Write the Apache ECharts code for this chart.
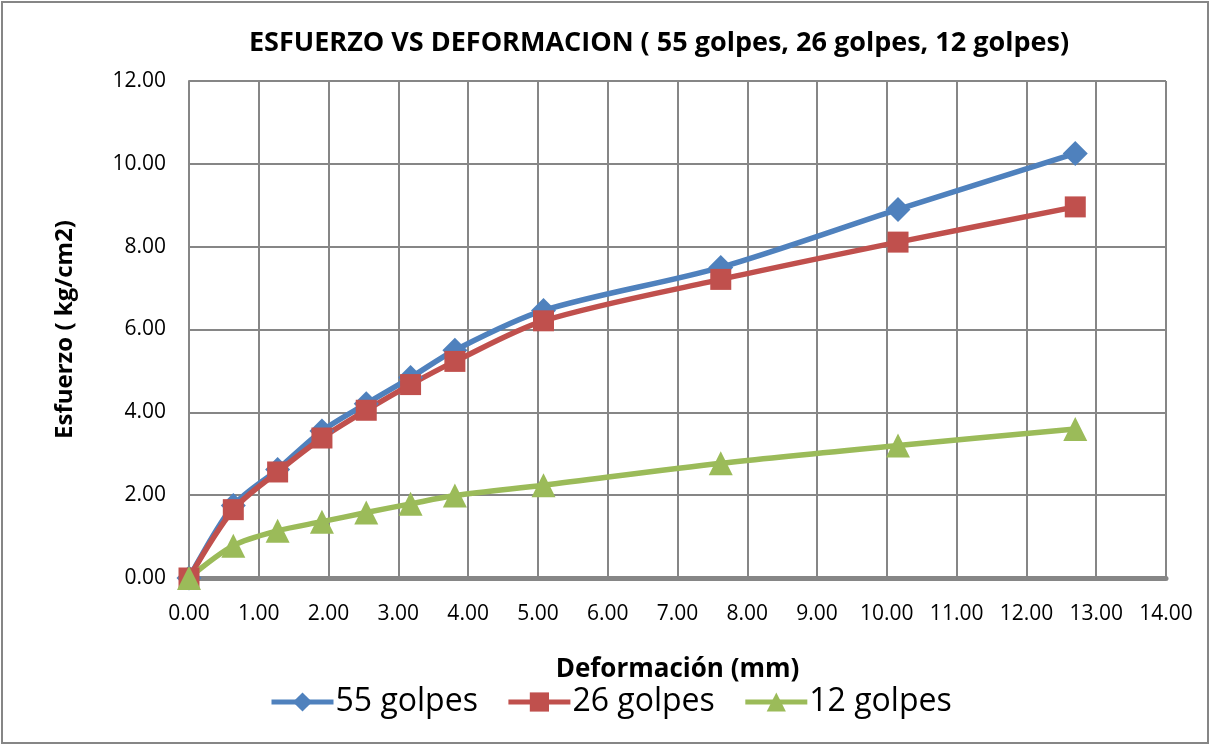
<!DOCTYPE html>
<html>
<head>
<meta charset="utf-8">
<script src="https://cdn.jsdelivr.net/npm/echarts@6/dist/echarts.min.js"></script>
<style>
  html, body { margin: 0; padding: 0; background: #fff; }
  #chart { width: 1211px; height: 745px; }
</style>
</head>
<body>
<div id="chart"></div>
<script>
// Penetración / deformación (mm)
const deformacion = [0, 0.635, 1.27, 1.905, 2.54, 3.175, 3.81, 5.08, 7.62, 10.16, 12.7];
// Esfuerzo (kg/cm2) por número de golpes
const golpes55 = [0, 1.75, 2.62, 3.55, 4.21, 4.84, 5.50, 6.46, 7.50, 8.90, 10.25];
const golpes26 = [0, 1.65, 2.56, 3.38, 4.05, 4.67, 5.23, 6.21, 7.21, 8.11, 8.96];
const golpes12 = [0, 0.78, 1.14, 1.36, 1.58, 1.79, 1.99, 2.24, 2.77, 3.20, 3.60];
const seriesNames = ['55 golpes', '26 golpes', '12 golpes'];

const FONT = '"Open Sans", Lato, sans-serif';
const pair = (ys) => deformacion.map((x, i) => [x, ys[i]]);

const chart = echarts.init(document.getElementById('chart'), null, { renderer: 'canvas' });

function lineSeries(name, ys, color, symbol, size) {
  return {
    name: name,
    type: 'line',
    data: pair(ys),
    smooth: 0.3,
    symbol: symbol,
    symbolSize: size,
    showAllSymbol: true,
    lineStyle: { color: color, width: 5.5 },
    itemStyle: { color: color },
    emphasis: { disabled: true },
    z: 3
  };
}

chart.setOption({
  animation: false,
  backgroundColor: '#fff',
  textStyle: { fontFamily: FONT },
  title: {
    text: 'ESFUERZO VS DEFORMACION ( 55 golpes, 26 golpes, 12 golpes)',
    left: 654,
    textAlign: 'center',
    top: 25,
    textStyle: { fontFamily: FONT, fontWeight: 'bold', fontSize: 27, color: '#000' }
  },
  legend: {
    data: seriesNames,
    top: 681,
    left: 264,
    itemWidth: 62,
    itemHeight: 24,
    itemGap: 28,
    lineStyle: { width: 5 },
    textStyle: { fontFamily: FONT, fontSize: 32, color: '#000', padding: [0, 0, 0, -3] }
  },
  grid: { left: 189, right: 45, top: 81, bottom: 167, containLabel: false },
  xAxis: {
    type: 'value',
    min: 0,
    max: 14,
    interval: 1,
    name: 'Deformación (mm)',
    nameLocation: 'middle',
    nameGap: 79,
    nameTextStyle: { fontFamily: FONT, fontWeight: 'bold', fontSize: 26, color: '#000' },
    axisLine: { show: true, onZero: false, lineStyle: { color: '#868686', width: 5 } },
    axisTick: { show: false },
    axisLabel: {
      margin: 26,
      fontFamily: FONT, fontSize: 21, color: '#000',
      formatter: (v) => v.toFixed(2)
    },
    splitLine: { show: true, lineStyle: { color: '#868686', width: 2 } }
  },
  yAxis: {
    type: 'value',
    min: 0,
    max: 12,
    interval: 2,
    name: 'Esfuerzo ( kg/cm2)',
    nameLocation: 'middle',
    nameGap: 112,
    nameRotate: 90,
    nameTextStyle: { fontFamily: FONT, fontWeight: 'bold', fontSize: 24, color: '#000' },
    axisLine: { show: true, lineStyle: { color: '#868686', width: 2 } },
    axisTick: { show: false },
    axisLabel: {
      margin: 23,
      fontFamily: FONT, fontSize: 21, color: '#000',
      formatter: (v) => v.toFixed(2)
    },
    splitLine: { show: true, lineStyle: { color: '#868686', width: 2 } }
  },
  graphic: [{
    type: 'rect',
    shape: { x: 2, y: 2, width: 1206, height: 741 },
    style: { fill: 'none', stroke: '#868686', lineWidth: 2 },
    silent: true,
    z: -1
  }],
  series: [
    lineSeries(seriesNames[0], golpes55, '#4F81BD', 'diamond', 25),
    lineSeries(seriesNames[1], golpes26, '#C0504D', 'rect', 21),
    lineSeries(seriesNames[2], golpes12, '#9BBB59', 'triangle', 24)
  ]
});
</script>
</body>
</html>
